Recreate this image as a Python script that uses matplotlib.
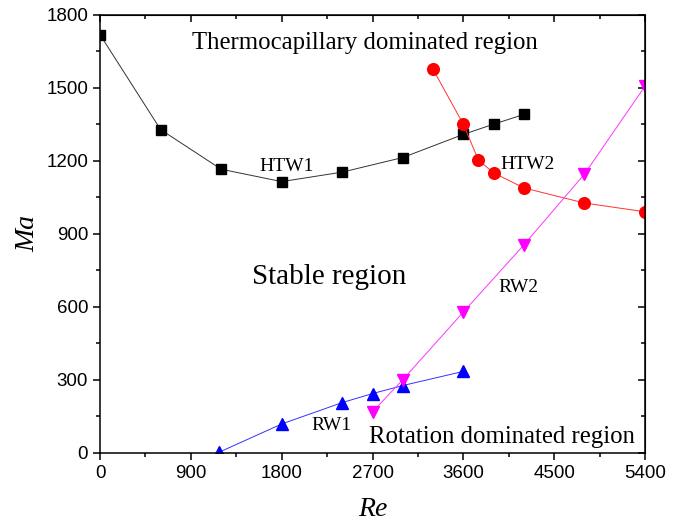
import matplotlib
matplotlib.use("Agg")
import matplotlib.pyplot as plt
from matplotlib.ticker import MultipleLocator

# Data
htw1_re = [0, 600, 1200, 1800, 2400, 3000, 3600, 3900, 4200]
htw1_ma = [1718, 1328, 1165, 1114, 1153, 1213, 1308, 1350, 1390]

htw2_re = [3300, 3600, 3750, 3900, 4200, 4800, 5400]
htw2_ma = [1575, 1350, 1202, 1150, 1088, 1026, 990]

rw1_re = [1180, 1800, 2400, 2700, 3000, 3600]
rw1_ma = [2, 118, 206, 243, 276, 334]

rw2_re = [2700, 3000, 3600, 4200, 4800, 5400]
rw2_ma = [168, 300, 578, 854, 1145, 1506]

xticks = [0, 900, 1800, 2700, 3600, 4500, 5400]
yticks = [0, 300, 600, 900, 1200, 1500, 1800]

serif = ["Liberation Serif", "DejaVu Serif"]
sans = ["Liberation Sans", "DejaVu Sans"]

fig = plt.figure(figsize=(6.85, 5.28), dpi=100)
ax = fig.add_axes([0.146, 0.1426, 0.7956, 0.8296])

ax.plot(htw1_re, htw1_ma, color="#333333", lw=0.7, marker="s", ms=7.8,
        mfc="black", mec="black")
ax.plot(htw2_re, htw2_ma, color="#ff3333", lw=0.7, marker="o", ms=8.4,
        mfc="red", mec="red")
ax.plot(rw1_re, rw1_ma, color="#3333ff", lw=0.7, marker="^", ms=9,
        mfc="blue", mec="blue")
ax.plot(rw2_re, rw2_ma, color="#ff33ff", lw=0.7, marker="v", ms=9,
        mfc="magenta", mec="magenta")

ax.set_xlim(0, 5400)
ax.set_ylim(0, 1800)
ax.set_xticks(xticks)
ax.set_yticks(yticks)
ax.xaxis.set_minor_locator(MultipleLocator(450))
ax.yaxis.set_minor_locator(MultipleLocator(150))

for s in ax.spines.values():
    s.set_linewidth(1.1)

ax.tick_params(axis="both", which="major", direction="out", length=5,
               width=1.1, labelsize=13.5, top=False, right=False)
ax.tick_params(axis="both", which="minor", direction="out", length=3,
               width=1.1, top=False, right=False)
for lab in ax.get_xticklabels() + ax.get_yticklabels():
    lab.set_family(sans)

# mirrored inward ticks on top and right
axt = ax.secondary_xaxis("top")
axt.set_xticks(xticks)
axt.xaxis.set_minor_locator(MultipleLocator(450))
axt.tick_params(which="major", direction="in", length=5, width=1.1, labeltop=False)
axt.tick_params(which="minor", direction="in", length=3, width=1.1)
axr = ax.secondary_yaxis("right")
axr.set_yticks(yticks)
axr.yaxis.set_minor_locator(MultipleLocator(150))
axr.tick_params(which="major", direction="in", length=5, width=1.1, labelright=False)
axr.tick_params(which="minor", direction="in", length=3, width=1.1)

ax.set_xlabel("Re", family=serif, style="italic", fontsize=20, labelpad=11)
ax.set_ylabel("Ma", family=serif, style="italic", fontsize=20, labelpad=4)

ax.text(912, 1684, "Thermocapillary dominated region", family=serif,
        fontsize=17.8, va="center", ha="left")
ax.text(1576, 1178, "HTW1", family=serif, fontsize=14, va="center", ha="left")
ax.text(3971, 1185, "HTW2", family=serif, fontsize=14, va="center", ha="left")
ax.text(1506, 722, "Stable region", family=serif, fontsize=21,
        va="center", ha="left")
ax.text(3948, 679, "RW2", family=serif, fontsize=14, va="center", ha="left")
ax.text(2097, 110, "RW1", family=serif, fontsize=14, va="center", ha="left")
ax.text(2669, 65, "Rotation dominated region", family=serif, fontsize=17.8,
        va="center", ha="left")

fig.savefig("out.png", dpi=100)
